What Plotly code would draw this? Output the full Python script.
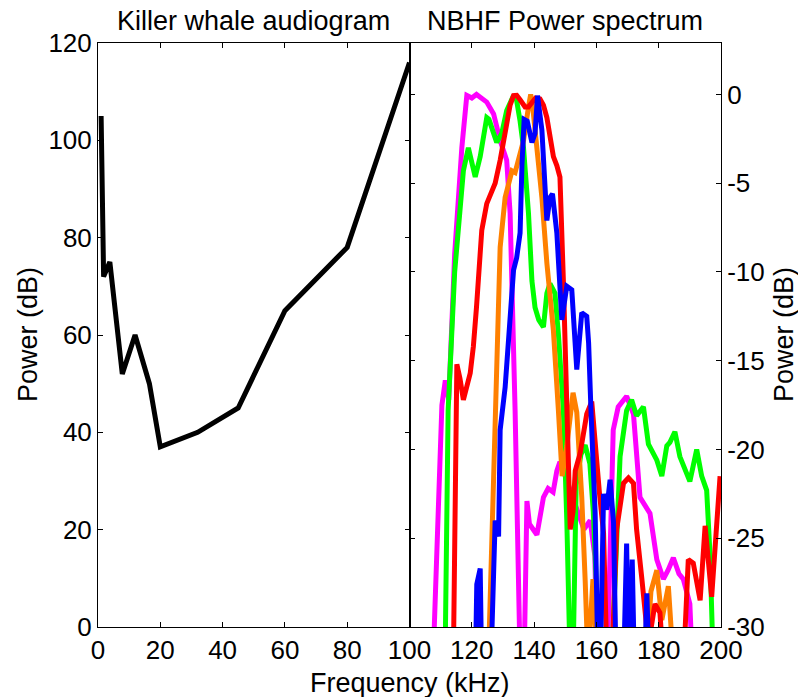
import plotly.graph_objects as go
from plotly.subplots import make_subplots

# Killer whale audiogram
aud_freq = [1, 1.8, 3.8, 7.8, 11.9, 16.5, 20, 32, 45, 60, 80, 100]
aud_db = [105, 72, 75, 52, 60, 50, 37, 40, 45, 65, 78, 116]

# NBHF power spectra (kHz, dB re peak)
mag_f = [106, 110.4, 111.5, 112.6, 114.5, 116.8, 118.4, 120, 121.5, 123, 124.8, 127, 129.1, 131.2, 132.3, 133.9,
         136.2, 137.7, 138.5, 140.9, 143, 144.5, 146.1, 147.3, 148.3, 150, 152, 154, 156, 158, 159.5, 161,
         163.5, 165.4, 167, 169.7, 171.9, 174, 177.2, 179.4, 181.5, 183, 184.7, 186.5, 187.9, 190, 191.5]
mag_db = [-40, -17.5, -16.1, -17.2, -9, -3.0, -0.05, -0.2, 0, -0.2, -0.43, -1.1, -2.6, -3.7, -6.7, -17.8,
          -38, -22.9, -24.2, -24.8, -22.7, -22.2, -22.4, -21.2, -20.7, -21.5, -22.5, -23.5, -24.5, -24.0, -26, -38,
          -32, -18.9, -17.6, -17.0, -18, -22.7, -23.6, -26.2, -27.3, -26.8, -26.1, -27, -27.3, -28.7, -35]

grn_f = [111.2, 112.4, 114.5, 117.3, 118.9, 120, 121.1, 122.7, 124.8, 125.5, 127, 128, 129.6, 131.2, 133.4, 134.4,
         135.5, 136.6, 138.2, 139.3, 140.3, 141.5, 143, 144.1, 145.1, 146.7, 147.8, 149.4, 150.5, 152.1, 153.5,
         155, 156.4, 157.9, 159, 160.5, 162, 164, 166.5, 167.6, 169.7, 171.3, 172.9, 174, 175.1, 176.7, 178,
         179.4, 181, 182.6, 183.6, 185.2, 186.8, 188.5, 190, 192.2, 193.8, 195.4, 196.5, 197.5]
grn_db = [-35, -17.8, -10, -4.3, -3.0, -4.0, -4.65, -3.5, -1.3, -1.4, -2.2, -2.7, -2.2, -0.9, -0.06, -0.34,
          -1.5, -3.0, -6.7, -10.5, -12, -12.7, -13.1, -11.2, -10.65, -11.2, -13.5, -17.8, -24, -36, -22,
          -20.3, -19.75, -20.8, -23.5, -30, -36, -36, -25, -20.4, -17.8, -17.2, -18.1, -17.8, -17.6, -19.7, -20.1,
          -20.6, -21.5, -19.8, -19.6, -19.0, -20.4, -21.2, -21.8, -20.0, -21.5, -22.3, -26, -32]

org_f = [125, 128, 129.1, 130.7, 132.9, 133.9, 135, 136.6, 138.2, 138.9, 139.5, 140.9, 142.5, 144.1, 146.2, 147.8,
         149, 150.5, 152.5, 153.7, 155.3, 156.4, 157.3, 158.9, 160, 176, 177.5, 179.4, 181, 183.1, 184.7]
org_db = [-34, -16.1, -8.6, -5.8, -4.3, -4.4, -3.7, -2.6, -0.7, 0, -0.6, -3.0, -5.8, -9.5, -13.3, -17.8,
          -21.5, -19.8, -16.8, -17.9, -22.7, -27.4, -32, -27.3, -31, -32, -28, -26.8, -29.6, -27.7, -32]

red_f = [113.8, 115.2, 116.2, 117.3, 119.5, 120.5, 121.5, 122.1, 123.2, 124.8, 126.5, 127.5, 129.1, 130.2, 131.2,
         132.3, 133.4, 134.4, 135.5, 137.1, 138.2, 139.3, 140.5, 141.9, 143, 144.1, 145.1, 146.2, 147.3, 148.3,
         149.4, 150.5, 151.6, 152.5, 153.2, 154.8, 156.9, 158.5, 159.5, 161, 162.3, 163.4, 165, 166.5, 168.7,
         170.3, 171.9, 172.9, 174.6, 176.7, 178.8, 180.4, 181.5, 188, 189.5, 191.1, 193.3, 194.9, 197, 199.7]
red_db = [-36, -15.2, -16, -17.2, -15.7, -14.2, -12, -10.5, -7.65, -6.15, -5.4, -5.0, -3.7, -2.5, -1.5,
          -0.6, -0.06, -0.05, -0.3, -0.7, -0.7, -0.5, -0.2, -0.25, -0.6, -1.3, -2.3, -3.5, -4.0, -4.65,
          -10.5, -17.8, -24.5, -23.5, -21.2, -20.2, -18.0, -17.3, -19.5, -22.5, -24.7, -32, -32, -24.5, -21.9,
          -21.6, -21.9, -24.5, -27.3, -31, -28.7, -29.2, -32, -32, -26.2, -26.4, -28.5, -24.3, -28.3, -21.5]

blu_f = [120.8, 121.6, 122.7, 123.3, 125.5, 127.5, 128.6, 129.1, 130.7, 132, 133.4, 134.4, 135.5, 136.1, 136.8,
         137.8, 139.3, 140.3, 141.1, 142.5, 144.1, 145.1, 145.9, 147.3, 148.3, 148.9, 150.5, 152.1, 153.7, 155.3,
         156.9, 157.5, 158.3, 159.6, 160.7, 161.5, 162.3, 163.3, 164.4, 165.5, 166.5, 168.5, 169.7, 170.5, 171.5,
         172.4, 175.5, 176.2, 177.2]
blu_db = [-36, -27.6, -26.7, -34, -36, -24.0, -24.9, -18.9, -16.5, -13, -9.9, -9.2, -7.8, -4, -1.4,
          -1.5, -2.7, -2.2, -0.06, -2.0, -7.1, -5.8, -5.6, -7.8, -10.5, -12.7, -10.8, -11, -15.5, -12.3,
          -12.5, -14, -18, -23.6, -34, -30, -22.5, -23.4, -21.7, -24.1, -34, -34, -25.3, -34, -26.2,
          -34, -32, -28.1, -34]

spectra = [
    (mag_f, mag_db, "#FF00FF"),
    (grn_f, grn_db, "#00FF00"),
    (org_f, org_db, "#FF8000"),
    (red_f, red_db, "#FF0000"),
    (blu_f, blu_db, "#0000FF"),
]

left_ticks = [0, 20, 40, 60, 80, 100, 120]
right_ticks = [0, -5, -10, -15, -20, -25, -30]
x1_ticks = [0, 20, 40, 60, 80, 100]
x2_ticks = [100, 120, 140, 160, 180, 200]

FONT = "Liberation Sans, Arial, sans-serif"
FS_TICK = 26
FS_TEXT = 27

fig = make_subplots(rows=1, cols=2, horizontal_spacing=0)
fig.add_trace(go.Scatter(x=aud_freq, y=aud_db, mode="lines",
                         line=dict(color="black", width=5)), row=1, col=1)
for f, d, c in spectra:
    fig.add_trace(go.Scatter(x=f, y=d, mode="lines",
                             line=dict(color=c, width=5)), row=1, col=2)

axis_common = dict(showline=True, linecolor="black", linewidth=1, ticks="inside",
                   ticklen=5, tickcolor="black", mirror="ticks", showgrid=False,
                   zeroline=False, tickfont=dict(family=FONT, size=FS_TICK, color="black"))

fig.update_layout(
    width=798, height=697,
    margin=dict(l=98, r=77, t=43, b=70),
    paper_bgcolor="white", plot_bgcolor="white",
    showlegend=False,
    font=dict(family=FONT, size=FS_TEXT, color="black"),
    xaxis=dict(domain=[0, 0.5], range=[0, 100], tickvals=x1_ticks,
               ticktext=[str(v) for v in x1_ticks], **axis_common),
    xaxis2=dict(domain=[0.5, 1], range=[100, 200], tickvals=x2_ticks,
                ticktext=[""] + [str(v) for v in x2_ticks[1:]], **axis_common),
    yaxis=dict(range=[0, 120], tickvals=left_ticks,
               ticktext=[str(v) for v in left_ticks], **axis_common),
    yaxis2=dict(range=[-30, 2.9], side="right", tickvals=right_ticks,
                ticktext=[str(v) for v in right_ticks], anchor="x2", **axis_common),
)

annots = [
    dict(text="Killer whale audiogram", x=0.25, y=1, xref="paper", yref="paper",
         xanchor="center", yanchor="middle", yshift=22, showarrow=False),
    dict(text="NBHF Power spectrum", x=0.75, y=1, xref="paper", yref="paper",
         xanchor="center", yanchor="middle", yshift=22, showarrow=False),
    dict(text="Frequency (kHz)", x=0.5, y=0, xref="paper", yref="paper",
         xanchor="center", yanchor="middle", yshift=-56, showarrow=False),
    dict(text="Power (dB)", x=0, y=0.5, xref="paper", yref="paper", textangle=-90,
         xanchor="center", yanchor="middle", xshift=-70, showarrow=False),
    dict(text="Power (dB)", x=1, y=0.5, xref="paper", yref="paper", textangle=-90,
         xanchor="center", yanchor="middle", xshift=63, showarrow=False),
]
for a in annots:
    a["font"] = dict(family=FONT, size=FS_TEXT, color="black")
fig.update_layout(annotations=annots)

fig.write_html("out.html")
